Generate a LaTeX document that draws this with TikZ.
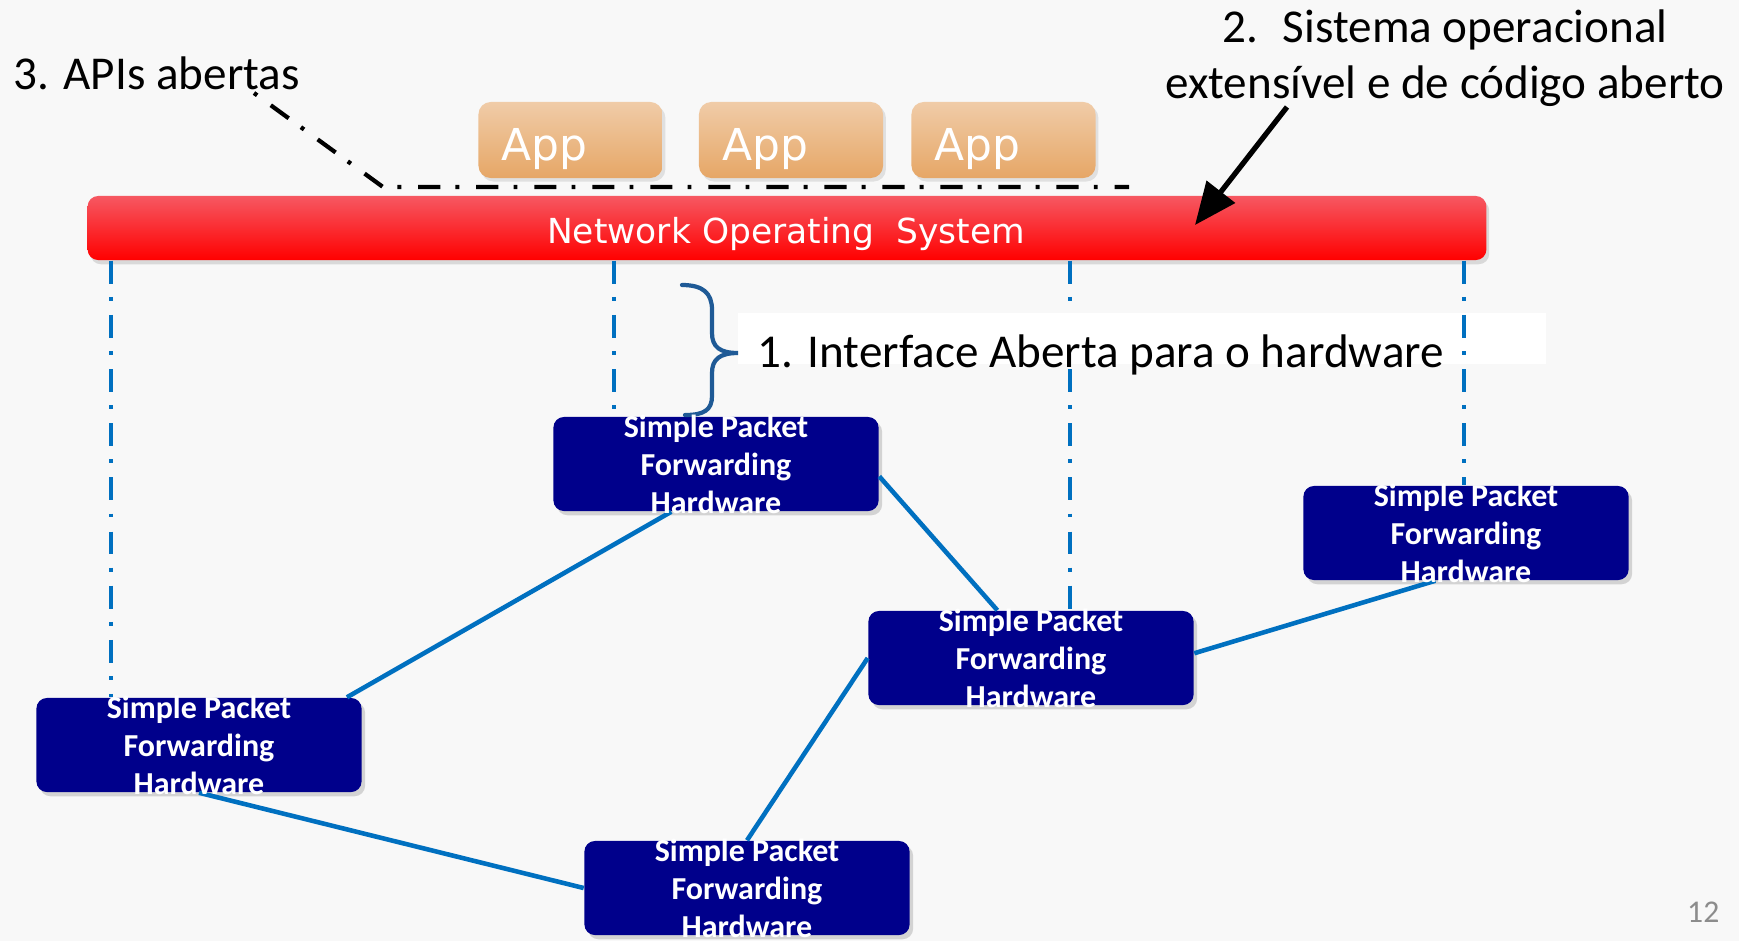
\documentclass[tikz,border=0pt]{standalone}
\usepackage{fontspec}
\setmainfont{Carlito}
\newfontfamily\dvfont{DejaVu Sans}
\usetikzlibrary{arrows.meta,calc,shadows}
\definecolor{bgc}{RGB}{248,248,248}
\definecolor{navy}{RGB}{0,0,139}
\definecolor{linkblue}{RGB}{0,112,192}
\definecolor{bracec}{RGB}{31,90,150}
\definecolor{apptop}{RGB}{240,204,168}
\definecolor{appbot}{RGB}{230,166,102}
\definecolor{redtop}{RGB}{246,88,98}
\definecolor{redbot}{RGB}{255,0,0}
\definecolor{pgnum}{RGB}{140,140,140}
\begin{document}
\begin{tikzpicture}[x=0.01cm,y=-0.01cm,
 lbl/.style={font=\fontsize{13.4}{16}\selectfont, inner sep=0pt, text=black},
 appbox/.style={rounded corners=3.5pt, minimum width=1.84cm, minimum height=0.76cm, inner sep=0pt,
   top color=apptop, bottom color=appbot, draw=none,
   drop shadow={opacity=0.2, shadow xshift=0.8pt, shadow yshift=-1pt}},
 apptxt/.style={font=\dvfont\fontsize{12.5}{15}\selectfont, text=white, inner sep=0pt, anchor=base west},
 redbar/.style={rounded corners=3pt, minimum width=13.98cm, minimum height=0.64cm, inner sep=0pt,
   top color=redtop, bottom color=redbot, draw=none,
   drop shadow={opacity=0.25, shadow xshift=0.8pt, shadow yshift=-1.2pt}},
 nostxt/.style={font=\dvfont\fontsize{9.8}{12}\selectfont, text=white, inner sep=0pt, anchor=base},
 hwbox/.style={fill=navy, rounded corners=3pt, minimum width=3.25cm, minimum height=0.94cm, inner sep=0pt,
   drop shadow={opacity=0.3, shadow xshift=1pt, shadow yshift=-1.2pt}},
 hwtxt/.style={font=\bfseries\fontsize{9.1}{10.8}\selectfont, text=white, align=center, inner sep=0pt},
 link/.style={draw=linkblue, line width=1.3pt},
 vline/.style={draw=linkblue, line width=1.15pt, dash pattern=on 6.5pt off 3.8pt on 1.1pt off 4pt},
 apiline/.style={draw=black, line width=1.2pt, dash pattern=on 1.1pt off 4.8pt on 6.3pt off 4.3pt},
 bigarrow/.style={draw=black, line width=1.5pt, -{Triangle[length=12pt,width=10pt]}},
]
\fill[bgc] (0,0) rectangle (1739,941);
\useasboundingbox (0,0) rectangle (1739,941);

% labels
\node[lbl, anchor=base west] (apis) at (13,89) {3. APIs abertas};
\node[lbl, anchor=base] (sisA) at (1445,42) {2.~ Sistema operacional};
\node[lbl, anchor=base] (sisB) at (1445,98) {extensível e de código aberto};

% apps
\node[appbox] (app1) at (570.5,140) {};
\node[appbox] (app2) at (791,140) {};
\node[appbox] (app3) at (1003.5,140) {};
\node[apptxt] (app1t) at (501,160) {App};
\node[apptxt] (app2t) at (722,160) {App};
\node[apptxt] (app3t) at (934,160) {App};

% API dash-dot line
\coordinate (api1) at (254,93);
\coordinate (api2) at (383,187);
\coordinate (api3) at (1129,187);
\draw[apiline] (api1) -- (api2) -- (api3);

% hardware boxes
\node[hwbox] (b1) at (199,745) {};
\node[hwbox] (b2) at (716,464) {};
\node[hwbox] (b3) at (747,888) {};
\node[hwbox] (b4) at (1031,658) {};
\node[hwbox] (b5) at (1466,533) {};

% vertical dash-dot lines
\coordinate (v1) at (111,0);
\coordinate (v2) at (614,0);
\coordinate (v3) at (1070,0);
\coordinate (v4) at (1464,0);

% network OS bar
\node[redbar] (nos) at (787,228) {};
\node[nostxt] (nost) at (786,243) {Network Operating~ System};

\draw[vline] (v1 |- nos.south) -- (v1 |- b1.north);
\draw[vline] (v2 |- nos.south) -- (v2 |- b2.north);
\draw[vline] (v3 |- nos.south) -- (v3 |- b4.north);

% interface label
\node[fill=white, minimum width=8.08cm, minimum height=0.51cm, inner sep=0pt] (ifbox) at (1142,338.5) {};
\draw[vline] (v4 |- nos.south) -- (v4 |- b5.north);
\node[lbl, anchor=base west] (iftxt) at (757,367) {1. Interface Aberta para o hardware};

% brace
\draw[bracec, line width=1.2pt, line cap=round]
  (682,285) .. controls (703,285) and (712,293) .. (712,310) -- (712,333)
  .. controls (712,347) and (720,353) .. (738,353)
  .. controls (720,353) and (712,359) .. (712,373) -- (712,396)
  .. controls (712,410) and (704,415) .. (685,415);

% arrow
\coordinate (arrS) at (1287,107);
\coordinate (arrE) at (1195,225);
\draw[bigarrow] (arrS) -- (arrE);

% links
\draw[link] ($(b2.south west)!0.363!(b2.south east)$) -- ($(b1.north west)!0.953!(b1.north east)$);
\draw[link] ($(b2.north east)!0.63!(b2.south east)$) -- ($(b4.north west)!0.397!(b4.north east)$);
\draw[link] (b1.south) -- (b3.west);
\draw[link] (b3.north) -- (b4.west);
\draw[link] ($(b4.north east)!0.45!(b4.south east)$) -- ($(b5.south west)!0.406!(b5.south east)$);

% hardware texts
\foreach \b in {b1,b2,b3,b4,b5}{
  \node[hwtxt] (\b t) at (\b.center) {Simple Packet\\Forwarding\\Hardware};
}

% page number
\node[font=\fontsize{9}{11}\selectfont, text=pgnum, anchor=base east, inner sep=0pt] (pg) at (1720,922) {12};
\end{tikzpicture}
\end{document}
